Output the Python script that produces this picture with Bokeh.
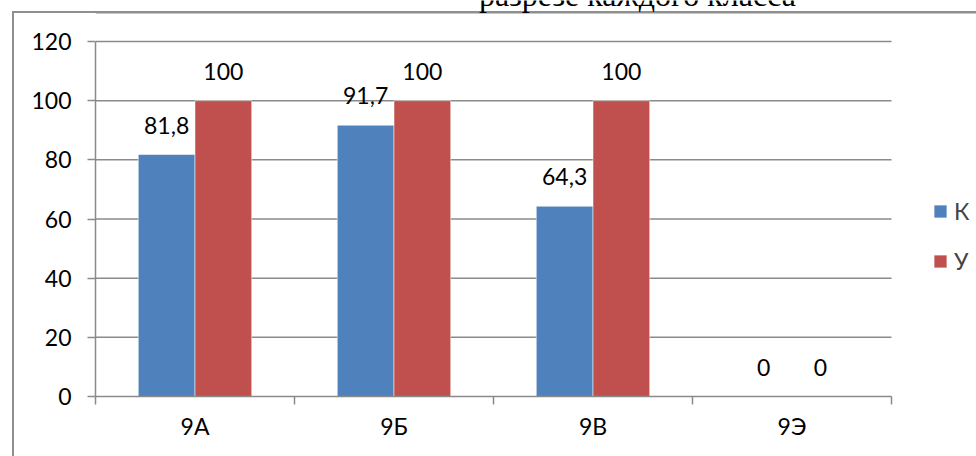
import numpy as np
from bokeh.plotting import figure
from bokeh.models import (Range1d, FixedTicker, ColumnDataSource, Label, Legend, LegendItem)
from bokeh.core.properties import value
from bokeh.embed import file_html
from bokeh.resources import INLINE

classes = ["9А", "9Б", "9В", "9Э"]
k_values = [81.8, 91.7, 64.3, 0]
u_values = [100, 100, 100, 0]
series_names = ["К", "У"]
y_ticks = [0, 20, 40, 60, 80, 100, 120]
title_text = "разрезе каждого класса"

BLUE = "#4F81BD"
RED = "#C0504D"
GRID = "#8a8a8a"
BORDER = "#8f8f8f"
FONT = "Lato"
FS = "23px"

W, H = 976, 456
# plot-area pixel box of the reference: x 95..891, y 41 (=120) .. 396 (=0)
FL, FR, FT, FB = 95, 891, 41, 396
# outer chart-area border corner
BX, BY = 12, 11
ncat = len(classes)
ymax = y_ticks[-1]
px_per_y = (FB - FT) / ymax
px_per_x = (FR - FL) / ncat
x_end = (W - FL) / px_per_x
y_end = FB / px_per_y

p = figure(width=W, height=H, output_backend="svg", toolbar_location=None,
           x_range=Range1d(0, x_end), y_range=Range1d(0, y_end),
           min_border_left=FL, min_border_right=0, min_border_top=0, min_border_bottom=H - FB)
p.outline_line_color = None
p.background_fill_alpha = 0
p.border_fill_alpha = 0
# outer chart-area border: left edge and top edge
p.styles = {
    "background-color": "white",
    "background-image": (f"linear-gradient({BORDER},{BORDER}), "
                         f"linear-gradient({BORDER},{BORDER})"),
    "background-position": f"{BX}px {BY}px, {BX}px {BY}px",
    "background-size": "2px 100%, 100% 2px",
    "background-repeat": "no-repeat, no-repeat",
}
# top edge of the outer border across the plot area
top_y = (FB - BY - 1) / px_per_y
p.segment(x0=[0], x1=[x_end], y0=[top_y], y1=[top_y], line_color=BORDER, line_width=2)

centers = np.arange(ncat) + 0.5
bw = 0.285
def fmt(v):
    return ("%g" % v).replace(".", ",")

# horizontal gridlines across the category area only
gl = ColumnDataSource(dict(y=y_ticks[1:], x0=[0] * (len(y_ticks) - 1), x1=[ncat] * (len(y_ticks) - 1)))
p.segment(x0="x0", x1="x1", y0="y", y1="y", source=gl, line_color=GRID, line_width=1.5)

src = ColumnDataSource(dict(
    xk=centers - bw / 2, xu=centers + bw / 2,
    k=k_values, u=u_values,
    kl=[fmt(v) for v in k_values], ul=[fmt(v) for v in u_values]))

rk = p.vbar(x="xk", top="k", width=bw, source=src, fill_color=BLUE, line_color="white", line_alpha=0.5, line_width=1)
ru = p.vbar(x="xu", top="u", width=bw, source=src, fill_color=RED, line_color="white", line_alpha=0.5, line_width=1)

p.text(x="xk", y="k", text="kl", source=src, text_align="center", text_baseline="bottom",
       y_offset=-21, text_font=value(FONT), text_font_size=FS, text_color="black")
p.text(x="xu", y="u", text="ul", source=src, text_align="center", text_baseline="bottom",
       y_offset=-21, text_font=value(FONT), text_font_size=FS, text_color="black")

p.xgrid.grid_line_color = None
p.ygrid.grid_line_color = None

# y axis
ya = p.yaxis[0]
ya.bounds = (0, ymax)
ya.ticker = FixedTicker(ticks=y_ticks)
ya.axis_line_color = GRID
ya.axis_line_width = 1.5
ya.major_tick_line_color = GRID
ya.major_tick_line_width = 1.5
ya.major_tick_out = 8
ya.major_tick_in = 0
ya.minor_tick_line_color = None
ya.major_label_standoff = 16
ya.major_label_text_font = FONT
ya.major_label_text_font_size = FS
ya.major_label_text_color = "black"

# x axis
xa = p.xaxis[0]
xa.bounds = (0, ncat)
xa.ticker = FixedTicker(ticks=list(centers), minor_ticks=list(range(ncat + 1)))
xa.major_label_overrides = {float(c): name for c, name in zip(centers, classes)}
xa.axis_line_color = GRID
xa.axis_line_width = 1.5
xa.major_tick_line_color = None
xa.major_tick_out = 0
xa.major_tick_in = 0
xa.minor_tick_line_color = GRID
xa.minor_tick_line_width = 1.5
xa.minor_tick_out = 8
xa.minor_tick_in = 0
xa.major_label_standoff = 7
xa.major_label_text_font = FONT
xa.major_label_text_font_size = FS
xa.major_label_text_color = "black"

legend = Legend(items=[LegendItem(label=series_names[0], renderers=[rk]),
                       LegendItem(label=series_names[1], renderers=[ru])],
                location=(932 - FL, FB - 275), padding=0, margin=0, spacing=22,
                glyph_width=16, glyph_height=16, label_standoff=6,
                label_text_font=FONT, label_text_font_size=FS,
                border_line_color=None, background_fill_alpha=0)
p.add_layout(legend, "center")

p.add_layout(Label(x=637 - FL, y=FB + 6, x_units="screen", y_units="screen", text=title_text,
                   text_align="center", text_baseline="alphabetic",
                   text_font="Liberation Serif", text_font_size="32px", text_color="black"))

open("out.html", "w").write(file_html(p, INLINE))
